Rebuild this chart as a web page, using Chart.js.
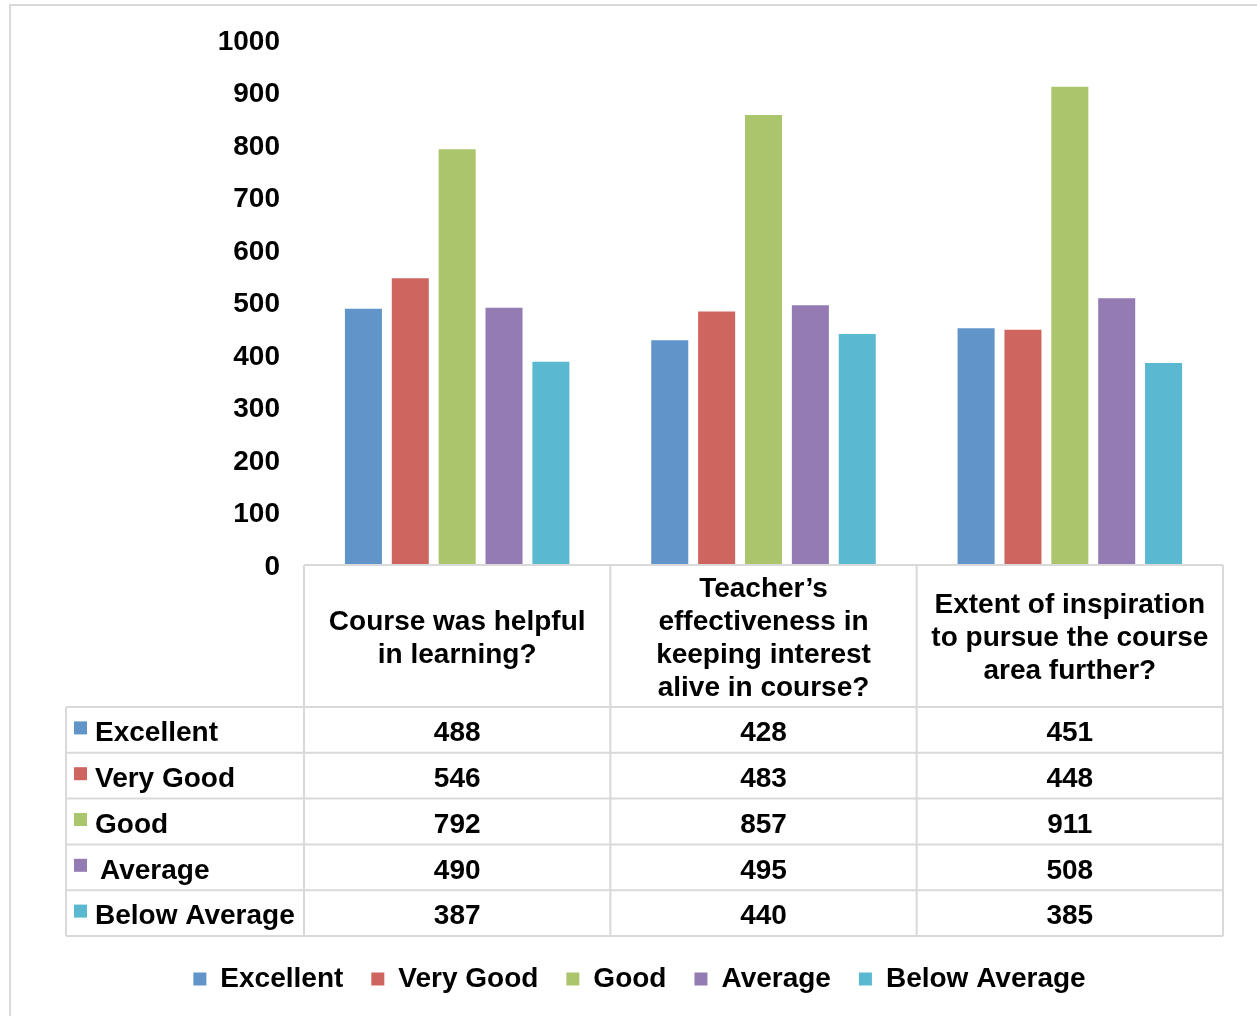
<!DOCTYPE html>
<html>
<head>
<meta charset="utf-8">
<script src="https://cdn.jsdelivr.net/npm/chart.js@4/dist/chart.umd.min.js"></script>
<style>
    html, body { margin: 0; padding: 0; background: #fff; overflow: hidden; }
    #frame {
        position: absolute; left: 9px; top: 4px; width: 1300px; height: 1100px;
        border: 2px solid #d9d9d9; box-sizing: border-box;
    }
    #wrap { position: absolute; left: 0; top: 0; width: 1257px; height: 1016px; }
</style>
</head>
<body>
<div id="frame"></div>
<div id="wrap"><canvas id="chart"></canvas></div>
<script>
//
// Data
//

const categories = [
    [ 'Course was helpful', 'in learning?' ],
    [ 'Teacher\u2019s', 'effectiveness in', 'keeping interest', 'alive in course?' ],
    [ 'Extent of inspiration', 'to pursue the course', 'area further?' ],
]
const series_names = [ 'Excellent', 'Very Good', 'Good', 'Average', 'Below Average' ]
const excellent = [ 488, 428, 451 ]
const very_good = [ 546, 483, 448 ]
const good = [ 792, 857, 911 ]
const average = [ 490, 495, 508 ]
const below_average = [ 387, 440, 385 ]
const y_ticks = [ 0, 100, 200, 300, 400, 500, 600, 700, 800, 900, 1000 ]

const COLORS = [ '#6194c9', '#ce655f', '#abc56d', '#957bb3', '#5bb8d1' ]
const FAMILY = '"Liberation Sans", Arial, sans-serif'
const FONT = 'bold 28px ' + FAMILY
const BORDER = '#d9d9d9'

//
// Data table under the plot, built from the x scale
//

const data_table = {
    id: 'data_table',
    afterDraw (chart) {
        const { ctx, chartArea } = chart
        const x = chart.scales.x
        const col_w = x.getPixelForValue(1) - x.getPixelForValue(0)
        const edges = categories.map((c, i) => x.getPixelForValue(i) - col_w / 2)
        edges.push(x.getPixelForValue(categories.length - 1) + col_w / 2)
        const label_left = 66
        const top = chartArea.bottom
        const head_bottom = top + 142
        const row_h = 45.8
        const rows = chart.data.datasets
        const bottom = head_bottom + row_h * rows.length

        ctx.save()
        ctx.strokeStyle = BORDER
        ctx.lineWidth = 2
        ctx.beginPath()
        // header top
        ctx.moveTo(edges[0], top)
        ctx.lineTo(edges[edges.length - 1], top)
        // row lines
        for (let r = 0; r <= rows.length; r++) {
            const y = head_bottom + r * row_h
            ctx.moveTo(label_left, y)
            ctx.lineTo(edges[edges.length - 1], y)
        }
        // column lines
        for (const e of edges) {
            ctx.moveTo(e, top)
            ctx.lineTo(e, bottom)
        }
        ctx.moveTo(label_left, head_bottom)
        ctx.lineTo(label_left, bottom)
        ctx.stroke()

        ctx.font = FONT
        ctx.fillStyle = '#000'
        ctx.textAlign = 'center'
        ctx.textBaseline = 'middle'
        const line_h = 33
        categories.forEach((lines, i) => {
            const cx = x.getPixelForValue(i)
            const cy = (top + head_bottom) / 2 + 2.5
            lines.forEach((t, k) => {
                ctx.fillText(t, cx, cy + (k - (lines.length - 1) / 2) * line_h)
            })
        })

        rows.forEach((ds, r) => {
            const cy = head_bottom + r * row_h + row_h / 2 + 3.5
            ctx.fillStyle = ds.backgroundColor
            ctx.fillRect(74, cy - 12, 13, 13)
            ctx.fillStyle = '#000'
            ctx.textAlign = 'left'
            ctx.fillText(ds.label, ds.label === 'Average' ? 100 : 95, cy)
            ctx.textAlign = 'center'
            ds.data.forEach((v, i) => {
                ctx.fillText(String(v), x.getPixelForValue(i), cy)
            })
        })
        ctx.restore()
    },
}

//
// Chart
//

const values = [ excellent, very_good, good, average, below_average ]

new Chart(document.getElementById('chart'), {
    type: 'bar',
    data: {
        labels: categories,
        datasets: series_names.map((name, i) => ({
            label: name,
            data: values[i],
            backgroundColor: COLORS[i],
            borderWidth: 0,
            categoryPercentage: 0.765,
            barPercentage: 0.79,
        })),
    },
    options: {
        responsive: true,
        maintainAspectRatio: false,
        animation: false,
        layout: { padding: { top: 40, right: 34, bottom: 13, left: 56 } },
        scales: {
            y: {
                min: 0,
                max: 1000,
                afterBuildTicks: (scale) => { scale.ticks = y_ticks.map((v) => ({ value: v })) },
                afterFit: (scale) => { scale.width = 248 },
                grid: { display: false },
                border: { display: false },
                ticks: {
                    padding: 16,
                    labelOffset: 2,
                    color: '#000',
                    callback: (v) => String(v),
                    font: { family: FAMILY, size: 28, weight: 'bold' },
                },
            },
            x: {
                afterFit: (scale) => { scale.height = 372 },
                grid: { display: false },
                border: { display: false },
                ticks: { display: false },
            },
        },
        plugins: {
            tooltip: { enabled: false },
            legend: {
                position: 'bottom',
                labels: {
                    boxWidth: 13,
                    boxHeight: 13,
                    padding: 28,
                    color: '#000',
                    font: { family: FAMILY, size: 28, weight: 'bold' },
                },
            },
        },
    },
    plugins: [ data_table ],
})
</script>
</body>
</html>
